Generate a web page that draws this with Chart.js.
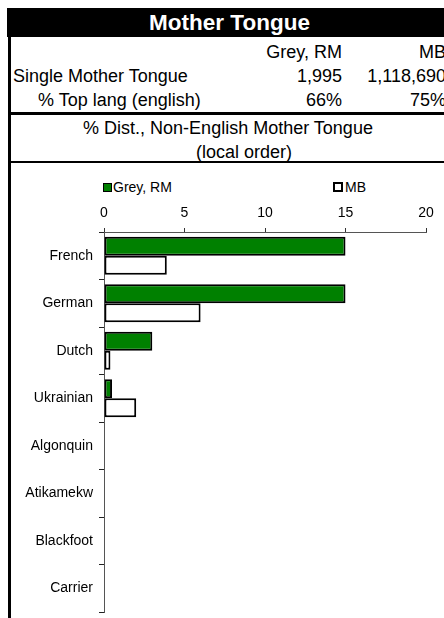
<!DOCTYPE html>
<html><head><meta charset="utf-8">
<script src="https://cdn.jsdelivr.net/npm/chart.js@4/dist/chart.umd.min.js"></script>
<style>
body{margin:0;width:444px;height:618px;overflow:hidden;background:#fff;font-family:"Liberation Sans",Arial,sans-serif;position:relative;color:#000}
.a{position:absolute;white-space:nowrap}
.t{font-size:18px;line-height:24px}
#hdr{left:7px;top:8px;width:445px;height:29px;background:#000;color:#fff;font-weight:bold;font-size:22.5px;line-height:29px;text-align:center}
#lb{left:8px;top:37px;width:3px;height:581px;background:#000}
.r1{text-align:right}
.lg{font-size:14px;line-height:16px}
#wrap{position:absolute;left:12px;top:195px;width:432px;height:423px}
</style></head><body>
<div class="a" id="hdr">Mother Tongue</div>
<div class="a" id="lb"></div>
<div class="a t r1" style="left:0;top:40px;width:342px">Grey, RM</div>
<div class="a t r1" style="left:0;top:40px;width:446px">MB</div>
<div class="a t" style="left:13px;top:64px">Single Mother Tongue</div>
<div class="a t r1" style="left:0;top:64px;width:342px">1,995</div>
<div class="a t r1" style="left:0;top:64px;width:446px">1,118,690</div>
<div class="a t" style="left:38px;top:88px">% Top lang (english)</div>
<div class="a t r1" style="left:0;top:88px;width:342px">66%</div>
<div class="a t r1" style="left:0;top:88px;width:446px">75%</div>
<div class="a" style="left:11px;top:112px;width:441px;height:3px;background:#000"></div>
<div class="a t" style="left:0;top:116px;width:456px;text-align:center">% Dist., Non-English Mother Tongue</div>
<div class="a t" style="left:0;top:140px;width:488px;text-align:center">(local order)</div>
<div class="a" style="left:11px;top:161px;width:441px;height:2px;background:#000"></div>
<div class="a" style="left:103px;top:183px;width:7px;height:7px;border:1px solid #000;background:#008000"></div>
<div class="a lg" style="left:113px;top:179px">Grey, RM</div>
<div class="a" style="left:333px;top:182px;width:6px;height:6px;border:2px solid #000;background:#fff"></div>
<div class="a lg" style="left:345px;top:179px">MB</div>
<div id="wrap"><canvas id="c"></canvas></div>
<script>
const categories = ['French','German','Dutch','Ukrainian','Algonquin','Atikamekw','Blackfoot','Carrier'];
const seriesNames = ['Grey, RM','MB'];
const greyRM = [15.0, 15.0, 3.0, 0.5, 0, 0, 0, 0];
const mb = [3.9, 6.0, 0.4, 2.0, 0, 0, 0, 0];
const xTicks = [0, 5, 10, 15, 20];

const font = {family:'"Liberation Sans", Arial, sans-serif', size:14};
new Chart(document.getElementById('c'), {
  type:'bar',
  data:{
    labels:categories,
    datasets:[
      {label:seriesNames[0], data:greyRM, backgroundColor:'#008000', borderColor:'#000', borderWidth:2, borderSkipped:false, categoryPercentage:0.8, barPercentage:1.0},
      {label:seriesNames[1], data:mb, backgroundColor:'#ffffff', borderColor:'#000', borderWidth:2, borderSkipped:false, categoryPercentage:0.8, barPercentage:1.0}
    ]
  },
  options:{
    indexAxis:'y',
    responsive:true,
    maintainAspectRatio:false,
    animation:false,
    layout:{padding:{left:0,right:18,top:0,bottom:6}},
    plugins:{legend:{display:false}, tooltip:{enabled:false}},
    scales:{
      x:{
        position:'top',
        min:xTicks[0], max:xTicks[xTicks.length-1],
        afterBuildTicks:s=>{s.ticks = xTicks.map(v=>({value:v}));},
        afterFit:s=>{s.height=37;},
        grid:{drawOnChartArea:false, drawTicks:true, tickLength:4, color:'#333'},
        border:{display:true, color:'#555', width:1},
        ticks:{font, color:'#000', padding:6, maxRotation:0}
      },
      y:{
        afterFit:s=>{s.width=92; s.paddingTop=0; s.paddingBottom=0;},
        grid:{drawOnChartArea:false, drawTicks:true, tickLength:5, offset:true, color:'#222', lineWidth:1},
        border:{display:true, color:'#555', width:1},
        ticks:{font, color:'#000', padding:6}
      }
    }
  }
});
</script>
</body></html>
